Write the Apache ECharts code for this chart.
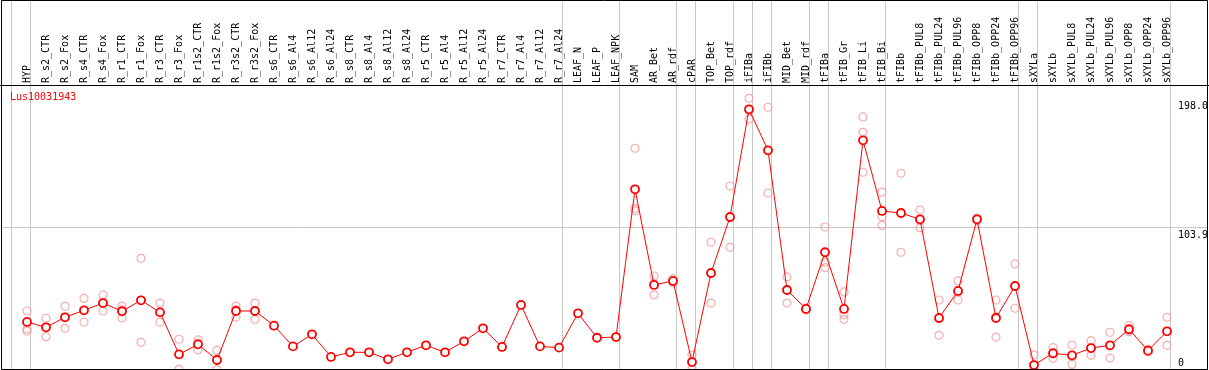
<!DOCTYPE html>
<html>
<head>
<meta charset="utf-8">
<script src="https://cdn.jsdelivr.net/npm/echarts@6/dist/echarts.min.js"></script>
<style>
html,body{margin:0;padding:0;background:#fff;}
#chart{width:1209px;height:370px;}
</style>
</head>
<body>
<div id="chart"></div>
<script>
const title = 'Lus10031943';
const categories = ['HYP','R_s2_CTR','R_s2_Fox','R_s4_CTR','R_s4_Fox','R_r1_CTR','R_r1_Fox','R_r3_CTR','R_r3_Fox','R_r1s2_CTR','R_r1s2_Fox','R_r3s2_CTR','R_r3s2_Fox','R_s6_CTR','R_s6_Al4','R_s6_Al12','R_s6_Al24','R_s8_CTR','R_s8_Al4','R_s8_Al12','R_s8_Al24','R_r5_CTR','R_r5_Al4','R_r5_Al12','R_r5_Al24','R_r7_CTR','R_r7_Al4','R_r7_Al12','R_r7_Al24','LEAF_N','LEAF_P','LEAF_NPK','SAM','AR_Bet','AR_rdf','cPAR','TOP_Bet','TOP_rdf','iFIBa','iFIBb','MID_Bet','MID_rdf','tFIBa','tFIB_Gr','tFIB_Li','tFIB_Bi','tFIBb','tFIBb_PUL8','tFIBb_PUL24','tFIBb_PUL96','tFIBb_OPP8','tFIBb_OPP24','tFIBb_OPP96','sXYLa','sXYLb','sXYLb_PUL8','sXYLb_PUL24','sXYLb_PUL96','sXYLb_OPP8','sXYLb_OPP24','sXYLb_OPP96'];
const meanValues = [35.0,31.1,38.4,43.5,48.8,42.8,50.8,42.0,11.4,18.7,7.3,43.0,43.0,32.3,17.2,26.0,9.5,12.9,12.9,7.8,12.9,18.0,12.9,20.9,30.4,16.8,47.4,17.2,16.3,41.3,23.5,24.0,131.7,62.0,64.9,5.8,70.7,111.5,190.0,160.1,58.3,44.5,85.8,44.5,167.4,115.9,114.4,109.8,37.9,57.6,109.8,37.9,61.2,3.6,12.2,10.7,16.0,18.0,29.7,14.1,28.2];
const repA = [43.0,37.7,46.4,52.2,54.7,46.6,81.4,48.8,22.4,21.9,14.3,46.6,48.8,null,null,null,null,null,null,null,null,null,null,null,null,null,null,null,null,null,null,null,161.6,68.5,66.5,10.9,93.1,134.1,198.0,191.5,67.8,45.3,104.2,56.9,184.4,129.7,143.4,116.6,51.0,64.9,110.8,51.0,77.3,10.9,16.3,18.2,21.4,27.5,32.3,15.0,38.4];
const repB = [29.9,24.3,30.4,34.8,43.0,37.9,20.2,34.8,0.5,14.6,0.3,38.4,36.9,null,null,null,null,null,null,null,null,null,null,null,null,null,null,null,null,null,null,null,117.8,54.7,63.5,1.0,48.8,89.4,182.9,129.0,48.8,43.8,74.6,40.1,173.2,111.7,85.8,103.7,25.3,51.0,108.9,24.0,45.0,0.0,8.5,4.1,10.7,8.7,27.9,13.2,18.0];
const repC = [28.4,31.1,38.4,43.5,48.8,43.9,50.8,42.4,11.3,19.6,7.3,44.0,43.3,null,null,null,null,null,null,null,null,null,null,null,null,null,null,null,null,null,null,null,116.1,62.8,64.7,5.5,70.2,111.0,189.1,159.8,58.3,44.4,78.6,36.9,144.1,105.4,114.0,109.1,37.4,57.0,109.7,38.7,61.3,0.0,11.8,9.8,15.9,17.8,28.9,14.1,28.2];
const yTickValues = [198.0, 103.9, 0];
const yTickLabels = ['198.0', '103.9', '0'];
const refLineValue = 103.9;
const groupSeparatorsAfter = [-1,0,28,31,34,35,37,38,39,41,42,45,52,53,60];

const FONT = '"DejaVu Sans Mono", monospace';
const chart = echarts.init(document.getElementById('chart'), null, {renderer:'canvas'});

const repData = [];
[repA, repB, repC].forEach(arr => arr.forEach((v, i) => { if (v !== null) repData.push([i, v]); }));

chart.setOption({
  animation: false,
  backgroundColor: '#ffffff',
  grid: {left: 17.5, right: 32.5, top: 85, bottom: 0, containLabel: false},
  xAxis: {
    type: 'category', data: categories, position: 'top', boundaryGap: true,
    axisLine: {show: false}, axisTick: {show: false}, splitLine: {show: false},
    axisLabel: {rotate: 90, interval: 0, margin: 2, color: '#000', fontFamily: FONT, fontSize: 10}
  },
  yAxis: {
    type: 'value', min: 0, max: 207.7,
    axisLine: {show: false}, axisTick: {show: false}, splitLine: {show: false}, axisLabel: {show: false}
  },
  series: [
    {
      type: 'scatter', data: repData, symbol: 'circle', symbolSize: 8, z: 2,
      itemStyle: {color: 'rgba(255,255,255,0)', borderColor: '#f09a9a', borderWidth: 1.2}
    },
    {
      type: 'line', data: meanValues, symbol: 'circle', symbolSize: 8, z: 3,
      lineStyle: {color: '#ff0000', width: 1},
      itemStyle: {color: '#ffffff', borderColor: '#ff0000', borderWidth: 1.8}
    }
  ]
});

function drawOverlay() {
  const g = [];
  const p0 = chart.convertToPixel({xAxisIndex: 0}, 0);
  const p1 = chart.convertToPixel({xAxisIndex: 0}, 1);
  const band = p1 - p0;
  const off = band * 0.184;
  groupSeparatorsAfter.forEach(i => {
    const x = Math.round(p0 + band * i + off) + 0.5;
    g.push({type: 'line', z: 0, silent: true, shape: {x1: x, y1: 0, x2: x, y2: 370}, style: {stroke: '#c8c8c8', lineWidth: 1}});
  });
  const yr = Math.round(chart.convertToPixel({yAxisIndex: 0}, refLineValue)) + 0.5;
  g.push({type: 'line', z: 0, silent: true, shape: {x1: 1, y1: yr, x2: 1207, y2: yr}, style: {stroke: '#c8c8c8', lineWidth: 1}});
  yTickValues.forEach((v, k) => {
    const py = chart.convertToPixel({yAxisIndex: 0}, v);
    g.push({type: 'text', z: 10, silent: true, x: 1178, y: Math.min(py + 3, 358),
      style: {text: yTickLabels[k], fill: '#000', font: '10px ' + FONT, textVerticalAlign: 'top', textAlign: 'left'}});
  });
  g.push({type: 'text', z: 10, silent: true, x: 10, y: 92,
    style: {text: title, fill: '#ff0000', font: '10px ' + FONT, textVerticalAlign: 'top', textAlign: 'left'}});
  g.push({type: 'line', z: 10, silent: true, shape: {x1: 0, y1: 85.5, x2: 1209, y2: 85.5}, style: {stroke: '#000', lineWidth: 1}});
  g.push({type: 'rect', z: 10, silent: true, shape: {x: 1.5, y: 0.5, width: 1206, height: 369}, style: {fill: 'none', stroke: '#000', lineWidth: 1}});
  chart.setOption({graphic: {elements: g}});
}
drawOverlay();
</script>
</body>
</html>
